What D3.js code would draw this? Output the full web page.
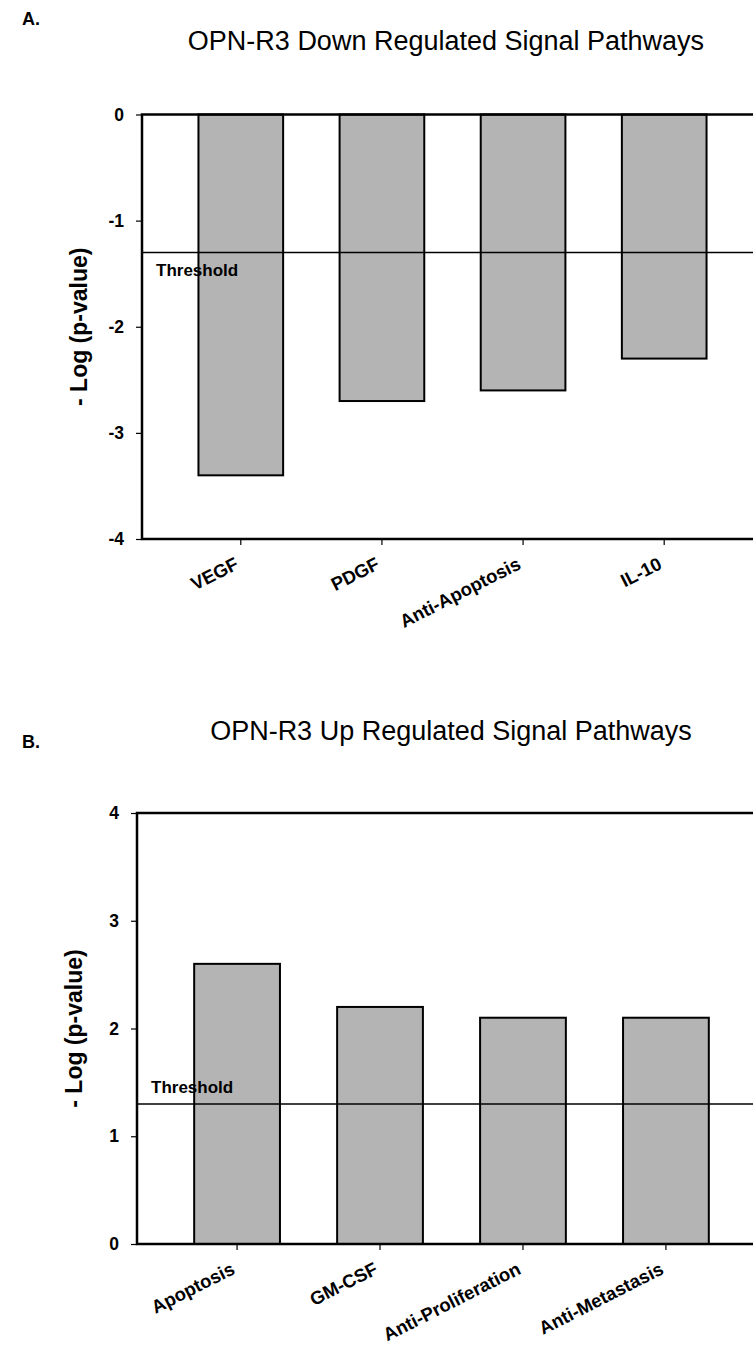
<!DOCTYPE html>
<html lang="en">
<head>
    <meta charset="UTF-8">
    <title>OPN-R3 Signal Pathways</title>
    <style>
        body {
            margin: 0;
            padding: 0;
            background: #fff;
        }
        svg {
            display: block;
            font-family: "Liberation Sans", Arial, sans-serif;
        }
        .bar {
            fill: #b4b4b4;
            stroke: #000;
            stroke-width: 2;
        }
        .frame {
            fill: none;
            stroke: #000;
            stroke-width: 2.5;
        }
        .threshold {
            stroke: #000;
            stroke-width: 1.5;
        }
        .tick line {
            stroke: #000;
            stroke-width: 1.2;
        }
    </style>
</head>
<body>
    <script src="https://cdnjs.cloudflare.com/ajax/libs/d3/7.8.5/d3.min.js"></script>
    <script>
        // panel A: down regulated
        const downCategories = ["VEGF", "PDGF", "Anti-Apoptosis", "IL-10"];
        const downValues = [-3.4, -2.7, -2.6, -2.3];
        const downTicks = [0, -1, -2, -3, -4];

        // panel B: up regulated
        const upCategories = ["Apoptosis", "GM-CSF", "Anti-Proliferation", "Anti-Metastasis"];
        const upValues = [2.6, 2.2, 2.1, 2.1];
        const upTicks = [0, 1, 2, 3, 4];

        const thresholdValue = 1.3;

        const width = 753;
        const height = 1355;

        const svg = d3.select("body")
            .append("svg")
            .attr("width", width)
            .attr("height", height);

        svg.append("rect")
            .attr("width", width)
            .attr("height", height)
            .attr("fill", "#fff");

        function drawPanel(opts) {
            const g = svg.append("g");

            const x = d3.scaleBand()
                .domain(opts.categories)
                .range([opts.left, opts.right])
                .paddingInner(0.4)
                .paddingOuter(0.4);

            const y = d3.scaleLinear()
                .domain(opts.domain)
                .range([opts.bottom, opts.top]);

            // panel letter and title
            g.append("text")
                .attr("x", 22)
                .attr("y", opts.letterY)
                .attr("font-size", 18)
                .attr("font-weight", "bold")
                .text(opts.letter);

            g.append("text")
                .attr("x", opts.titleX)
                .attr("y", opts.titleY)
                .attr("text-anchor", "middle")
                .attr("font-size", 27)
                .text(opts.title);

            // bars
            g.selectAll("rect.bar")
                .data(opts.categories)
                .enter()
                .append("rect")
                .attr("class", "bar")
                .attr("x", d => x(d))
                .attr("width", x.bandwidth())
                .attr("y", (d, i) => Math.min(y(0), y(opts.values[i])))
                .attr("height", (d, i) => Math.abs(y(opts.values[i]) - y(0)));

            // threshold line and label
            g.append("line")
                .attr("class", "threshold")
                .attr("x1", opts.left)
                .attr("x2", opts.right)
                .attr("y1", y(opts.threshold))
                .attr("y2", y(opts.threshold));

            g.append("text")
                .attr("x", opts.left + 14)
                .attr("y", y(opts.threshold) + opts.thresholdDy)
                .attr("font-size", 17)
                .attr("font-weight", "bold")
                .text("Threshold");

            // y axis (plain hyphen for negatives, like the original)
            const yAxis = g.append("g")
                .attr("transform", `translate(${opts.left},0)`)
                .call(d3.axisLeft(y).tickValues(opts.ticks).tickSize(6).tickPadding(12).tickFormat(d => String(d)));
            yAxis.select(".domain").remove();
            yAxis.selectAll("text")
                .attr("font-size", 17.5)
                .attr("font-weight", "bold")
                .attr("font-family", "Liberation Sans, Arial, sans-serif")
                .attr("fill", "#000");

            // x axis
            const xAxis = g.append("g")
                .attr("transform", `translate(0,${opts.bottom})`)
                .call(d3.axisBottom(x).tickSize(6));
            xAxis.select(".domain").remove();
            xAxis.selectAll("text")
                .attr("y", null)
                .attr("dy", null)
                .attr("text-anchor", "end")
                .attr("transform", "translate(-1,29) rotate(-27)")
                .attr("font-size", 18.5)
                .attr("font-weight", "bold")
                .attr("font-family", "Liberation Sans, Arial, sans-serif")
                .attr("fill", "#000");

            // frame (right side runs off the page)
            g.append("rect")
                .attr("class", "frame")
                .attr("x", opts.left)
                .attr("y", opts.top)
                .attr("width", opts.right - opts.left)
                .attr("height", opts.bottom - opts.top);

            // y axis label
            g.append("text")
                .attr("transform", `translate(${opts.left - 55},${(opts.top + opts.bottom) / 2}) rotate(-90)`)
                .attr("text-anchor", "middle")
                .attr("font-size", 23)
                .attr("font-weight", "bold")
                .text("- Log (p-value)");
        }

        drawPanel({
            letter: "A.",
            letterY: 25,
            title: "OPN-R3 Down Regulated Signal Pathways",
            titleX: 446,
            titleY: 50,
            categories: downCategories,
            values: downValues,
            ticks: downTicks,
            domain: [-4, 0],
            threshold: -thresholdValue,
            thresholdDy: 24,
            left: 142,
            right: 763,
            top: 114.5,
            bottom: 539
        });

        drawPanel({
            letter: "B.",
            letterY: 748,
            title: "OPN-R3 Up Regulated Signal Pathways",
            titleX: 451,
            titleY: 740,
            categories: upCategories,
            values: upValues,
            ticks: upTicks,
            domain: [0, 4],
            threshold: thresholdValue,
            thresholdDy: -11,
            left: 137,
            right: 766,
            top: 813,
            bottom: 1244
        });
    </script>
</body>
</html>
